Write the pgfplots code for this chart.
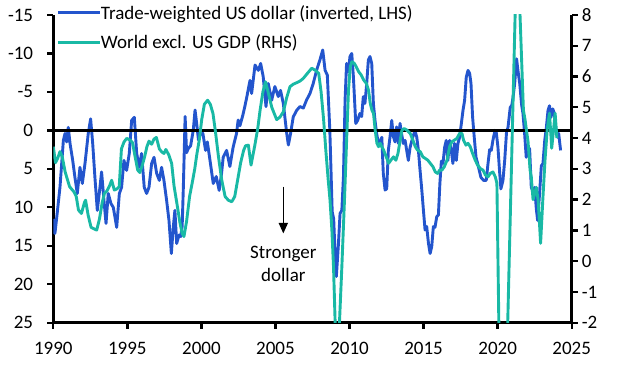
\documentclass[border=0pt]{standalone}
\usepackage{fontspec}
\setmainfont{Carlito}
\usepackage{pgfplots}
\pgfplotsset{compat=1.18}
\usetikzlibrary{arrows.meta}
\definecolor{cblue}{RGB}{35,85,205}
\definecolor{cteal}{RGB}{25,185,165}

\pgfplotstableread{
x y
1990.0 11.5
1990.11 13.4
1990.25 11.0
1990.45 7.4
1990.68 1.3
1990.79 0.4
1990.9 1.5
1991.01 -0.4
1991.13 1.7
1991.31 3.9
1991.46 6.1
1991.62 8.2
1991.8 4.8
1991.96 6.9
1992.14 4.3
1992.36 0.4
1992.52 -1.5
1992.66 1.7
1992.81 6.1
1992.97 10.4
1993.15 7.4
1993.26 5.4
1993.42 9.1
1993.56 12.1
1993.71 8.2
1993.89 9.5
1994.05 10.0
1994.28 12.6
1994.46 8.2
1994.61 7.4
1994.77 3.9
1994.95 5.2
1995.13 3.0
1995.29 -1.3
1995.47 -1.7
1995.63 3.0
1995.81 4.8
1995.96 3.0
1996.14 7.4
1996.3 8.2
1996.46 7.4
1996.64 4.3
1996.8 3.5
1996.98 5.6
1997.16 6.5
1997.31 4.8
1997.47 6.5
1997.65 9.1
1997.81 11.7
1997.97 16.0
1998.1 12.6
1998.21 10.4
1998.33 14.7
1998.49 13.6
1998.6 13.8
1998.7 12.5
1998.78 7.4
1998.9 -1.8
1999.0 2.9
1999.1 2.4
1999.27 2.0
1999.45 0.0
1999.57 -2.65
1999.68 -0.9
1999.8 1.25
1999.92 0.5
2000.1 0.4
2000.28 2.6
2000.4 1.5
2000.55 3.5
2000.8 6.9
2001.0 6.0
2001.2 7.8
2001.36 5.6
2001.47 3.5
2001.7 2.6
2001.92 4.7
2002.14 2.2
2002.37 0.4
2002.48 -1.35
2002.6 -0.6
2002.8 -2.0
2002.93 -3.1
2003.06 -4.3
2003.28 -6.5
2003.39 -4.8
2003.62 -8.5
2003.84 -7.8
2004.0 -8.7
2004.17 -7.0
2004.36 -3.1
2004.51 -6.1
2004.74 -3.9
2004.96 -5.7
2005.19 -4.4
2005.34 -5.2
2005.53 -3.5
2005.76 0.4
2005.87 1.9
2006.02 0.4
2006.2 -1.75
2006.43 -2.6
2006.65 -3.1
2006.88 -2.9
2007.1 -3.95
2007.33 -4.8
2007.55 -6.1
2007.78 -7.85
2008.0 -9.15
2008.19 -10.45
2008.35 -7.8
2008.5 -7.2
2008.67 0.0
2008.83 10.6
2008.93 11.5
2009.02 15.8
2009.11 19.0
2009.25 14.8
2009.36 10.8
2009.48 10.4
2009.59 6.0
2009.7 -4.0
2009.8 -8.7
2009.92 -7.6
2010.03 -9.6
2010.15 -10.0
2010.26 -7.0
2010.42 -0.9
2010.55 -1.3
2010.7 -2.2
2010.82 -1.8
2010.93 -4.4
2011.04 -3.5
2011.16 -6.1
2011.27 -9.15
2011.38 -9.6
2011.5 -8.7
2011.61 -3.5
2011.72 -1.3
2011.83 0.4
2011.95 1.7
2012.06 1.5
2012.18 0.9
2012.28 5.6
2012.4 7.75
2012.51 7.6
2012.62 2.6
2012.73 0.9
2012.85 -1.3
2012.96 0.8
2013.07 1.5
2013.18 -0.45
2013.3 1.7
2013.41 -0.9
2013.52 0.5
2013.63 1.7
2013.75 1.3
2013.86 2.6
2013.97 3.9
2014.09 2.2
2014.27 0.9
2014.42 0.0
2014.54 0.9
2014.65 2.6
2014.76 5.15
2014.88 7.75
2014.99 10.4
2015.1 12.95
2015.21 12.5
2015.33 14.7
2015.44 16.0
2015.55 15.1
2015.66 12.5
2015.77 12.6
2015.89 11.2
2016.0 11.0
2016.1 6.9
2016.2 4.0
2016.31 4.3
2016.42 2.2
2016.53 1.3
2016.64 3.9
2016.76 1.3
2016.87 2.6
2016.98 4.3
2017.09 1.7
2017.21 3.9
2017.32 1.7
2017.43 0.9
2017.55 -0.9
2017.66 -2.6
2017.77 -3.9
2017.88 -6.9
2018.0 -7.8
2018.11 -7.4
2018.2 -6.1
2018.31 -1.7
2018.42 0.9
2018.54 3.5
2018.65 4.3
2018.76 5.2
2018.87 6.1
2019.05 6.5
2019.23 6.5
2019.35 4.3
2019.46 2.5
2019.57 2.6
2019.68 1.3
2019.82 0.0
2019.91 0.3
2020.02 2.2
2020.14 5.6
2020.22 7.6
2020.36 6.5
2020.48 3.8
2020.6 0.2
2020.7 -0.4
2020.85 -3.0
2020.95 -3.2
2021.04 -4.3
2021.15 -6.1
2021.28 -9.3
2021.37 -7.8
2021.49 -6.1
2021.62 -3.3
2021.71 -2.2
2021.82 0.4
2021.93 3.5
2022.04 2.2
2022.16 2.4
2022.27 7.4
2022.39 8.0
2022.5 7.4
2022.61 10.2
2022.7 11.7
2022.82 8.5
2022.95 4.6
2023.06 4.3
2023.18 1.3
2023.29 -0.4
2023.4 -2.6
2023.5 -3.2
2023.6 -1.7
2023.72 -2.8
2023.83 -2.2
2023.96 0.4
2024.05 0.9
2024.12 0.4
2024.25 2.6
}\usd

\pgfplotstableread{
x y
1990.0 3.72
1990.15 3.2
1990.3 3.35
1990.45 3.56
1990.6 3.4
1990.8 2.9
1991.1 2.42
1991.4 2.25
1991.55 2.1
1991.7 1.66
1991.9 1.55
1992.1 1.9
1992.18 1.98
1992.35 1.5
1992.55 1.1
1992.75 1.05
1992.93 1.01
1993.12 1.38
1993.3 1.9
1993.45 2.2
1993.62 2.28
1993.8 2.45
1993.94 2.63
1994.12 2.31
1994.3 2.35
1994.45 2.42
1994.6 3.65
1994.78 3.88
1994.96 3.99
1995.2 3.93
1995.35 3.85
1995.52 3.4
1995.7 2.96
1995.84 2.88
1996.0 3.1
1996.17 3.4
1996.32 3.72
1996.46 3.9
1996.64 3.8
1996.8 3.97
1996.96 4.02
1997.16 3.65
1997.32 3.55
1997.47 3.5
1997.6 3.63
1997.8 3.45
1997.99 3.18
1998.15 2.45
1998.37 1.8
1998.55 1.25
1998.7 0.9
1998.82 0.8
1999.0 1.3
1999.2 2.1
1999.4 2.6
1999.55 3.0
1999.7 3.5
1999.86 3.95
2000.02 4.6
2000.2 5.1
2000.42 5.23
2000.6 5.1
2000.78 4.8
2000.95 4.2
2001.15 3.4
2001.37 2.64
2001.6 2.1
2001.82 1.98
2002.05 1.93
2002.25 2.1
2002.45 2.65
2002.65 3.2
2002.85 3.6
2002.98 3.75
2003.17 3.77
2003.35 3.12
2003.6 3.75
2003.8 4.3
2003.96 4.9
2004.15 5.5
2004.33 5.83
2004.55 5.4
2004.75 5.0
2005.08 4.6
2005.3 4.68
2005.53 4.85
2005.75 5.3
2005.98 5.67
2006.2 5.75
2006.43 5.8
2006.65 5.85
2006.88 5.94
2007.15 6.1
2007.45 6.27
2007.7 6.2
2007.92 6.1
2008.08 5.5
2008.25 4.6
2008.4 3.6
2008.55 2.7
2008.68 2.0
2008.81 1.0
2008.92 -0.2
2009.15 -4.0
2009.32 -2.0
2009.48 -0.2
2009.66 2.0
2009.82 4.15
2009.93 5.56
2010.05 6.32
2010.16 6.48
2010.32 6.43
2010.45 6.32
2010.61 6.16
2010.79 6.05
2010.95 5.89
2011.13 5.78
2011.28 5.56
2011.4 5.13
2011.51 4.91
2011.62 4.8
2011.73 4.26
2011.85 3.83
2011.96 3.72
2012.07 3.83
2012.18 3.72
2012.3 3.61
2012.48 3.39
2012.64 3.18
2012.79 3.28
2012.97 3.39
2013.13 3.28
2013.27 3.5
2013.42 3.93
2013.54 4.26
2013.69 4.31
2013.87 4.26
2014.1 4.15
2014.28 3.93
2014.44 3.72
2014.59 3.61
2014.77 3.56
2014.95 3.39
2015.11 3.34
2015.29 3.28
2015.45 3.18
2015.63 3.07
2015.79 2.9
2015.95 2.85
2016.08 2.96
2016.24 2.96
2016.4 3.07
2016.58 3.28
2016.76 3.72
2016.91 3.88
2017.07 3.93
2017.25 3.99
2017.43 4.15
2017.59 4.15
2017.7 3.93
2017.86 3.77
2018.0 3.83
2018.15 3.72
2018.31 3.5
2018.49 3.28
2018.65 3.12
2018.83 3.01
2019.01 2.96
2019.17 2.8
2019.35 2.74
2019.5 2.85
2019.68 2.9
2019.84 2.74
2019.95 2.53
2020.08 -2.0
2020.35 -9.0
2020.68 -2.0
2021.18 8.0
2021.35 11.5
2021.51 8.0
2021.74 4.9
2021.85 4.6
2021.96 4.2
2022.05 3.9
2022.19 2.96
2022.27 2.74
2022.39 2.0
2022.5 2.2
2022.61 2.4
2022.73 2.0
2022.84 1.1
2022.9 0.58
2023.05 2.0
2023.2 3.3
2023.35 4.3
2023.5 4.81
2023.65 3.67
2023.78 4.3
2023.88 4.81
2024.0 4.0
}\gdp

\pgfplotsset{
  base/.style={
    width=518.4bp, height=307.7bp, scale only axis,
    xmin=1990, xmax=2025,
    axis line style={line width=2.5bp, black},
    major tick style={line width=2.3bp, black},
    major tick length=6bp, tick align=outside,
    minor tick num=0,
  },
}

\begin{document}
\begin{tikzpicture}[font=\fontsize{19bp}{23bp}\selectfont]
\begin{axis}[base, name=ax,
  ymin=-15, ymax=25, y dir=reverse,
  axis y line*=left, axis x line=none,
  ytick={-15,-10,-5,0,5,10,15,20,25},
  yticklabels={-15,-10,-5,0,5,10,15,20,25},
  yticklabel style={inner sep=0pt, xshift=-14bp},
]
\addplot[cblue, line width=2.9bp, line join=round] table[x=x,y=y]{\usd};
\addplot[black, line width=2.5bp] coordinates {(1990,0) (2025,0)};
\draw[line width=1.6bp, -{Triangle[width=9bp,length=10.5bp]}] (axis cs:2005.53,7.3) -- (axis cs:2005.53,13.4);
\node[align=center, inner sep=0pt] at (axis cs:2005.53,17.3) {Stronger\\dollar};
\end{axis}
\begin{axis}[base,
  ymin=-2, ymax=8,
  axis y line*=right, axis x line*=bottom,
  ytick={-2,-1,0,1,2,3,4,5,6,7,8},
  yticklabels={-2,-1,0,1,2,3,4,5,6,7,8},
  yticklabel style={inner sep=0pt, xshift=4bp},
  xtick={1990,1995,2000,2005,2010,2015,2020,2025},
  xticklabels={1990,1995,2000,2005,2010,2015,2020,2025},
  xticklabel style={inner sep=0pt, yshift=-13bp},
  legend style={draw=none, fill=none, at={(0,1)}, anchor=north west,
    xshift=3bp, yshift=10bp, inner sep=0pt, row sep=14bp,
    nodes={inner sep=0pt}},
  legend cell align=left,
  legend image code/.code={\draw[#1] (0bp,0bp) -- (41.6bp,0bp);},
  every even column/.append style={column sep=5bp},
]
\addlegendimage{cblue, line width=2.9bp}
\addlegendentry{Trade-weighted US dollar (inverted, LHS)}
\addplot[cteal, line width=2.9bp, line join=round] table[x=x,y=y]{\gdp};
\addlegendentry{World excl. US GDP (RHS)}
\end{axis}
\path ([shift={(-53.3bp,-50.3bp)}]ax.south west) rectangle ([shift={(46.3bp,15bp)}]ax.north east);
\end{tikzpicture}
\end{document}
